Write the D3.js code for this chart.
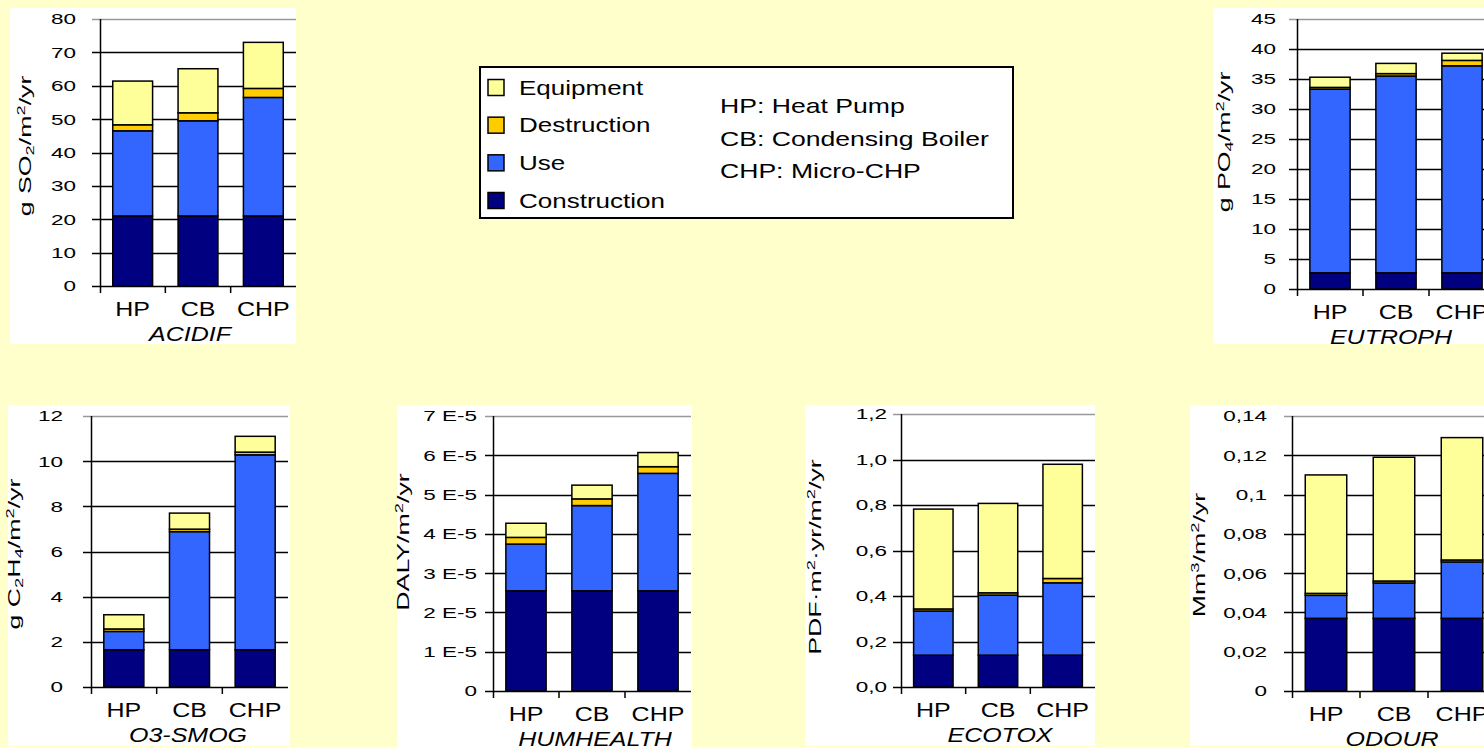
<!DOCTYPE html>
<html><head><meta charset="utf-8">
<script src="https://cdn.jsdelivr.net/npm/d3@7"></script>
<style>
html,body{margin:0;padding:0;background:#FFFFCC;overflow:hidden}
svg{display:block}
text{font-family:"Liberation Sans",Arial,sans-serif;fill:#000}
</style></head><body>
<svg id="c" width="1484" height="747"></svg>
<script>
// ---------- DATA ----------
const categories = ["HP", "CB", "CHP"];
const seriesNames = ["Construction", "Use", "Destruction", "Equipment"];
const seriesColors = ["#000080", "#3366FF", "#FFCC00", "#FFFF99"];
const legendOrder = ["Equipment", "Destruction", "Use", "Construction"];
const abbreviations = ["HP: Heat Pump", "CB: Condensing Boiler", "CHP: Micro-CHP"];

const acidifConstruction = [21, 21, 21];
const acidifUse = [25.5, 28.5, 35.5];
const acidifDestruction = [1.8, 2.4, 2.7];
const acidifEquipment = [13.1, 13.2, 13.8];
const acidifTicks = [0, 10, 20, 30, 40, 50, 60, 70, 80];
const acidifTickLabels = ["0", "10", "20", "30", "40", "50", "60", "70", "80"];

const eutrophConstruction = [2.7, 2.7, 2.7];
const eutrophUse = [30.6, 32.8, 34.5];
const eutrophDestruction = [0.3, 0.4, 0.9];
const eutrophEquipment = [1.7, 1.7, 1.2];
const eutrophTicks = [0, 5, 10, 15, 20, 25, 30, 35, 40, 45];
const eutrophTickLabels = ["0", "5", "10", "15", "20", "25", "30", "35", "40", "45"];

const smogConstruction = [1.65, 1.65, 1.65];
const smogUse = [0.81, 5.23, 8.63];
const smogDestruction = [0.11, 0.11, 0.12];
const smogEquipment = [0.63, 0.71, 0.70];
const smogTicks = [0, 2, 4, 6, 8, 10, 12];
const smogTickLabels = ["0", "2", "4", "6", "8", "10", "12"];

const humConstruction = [2.55e-5, 2.55e-5, 2.55e-5];
const humUse = [1.19e-5, 2.17e-5, 2.99e-5];
const humDestruction = [0.17e-5, 0.17e-5, 0.17e-5];
const humEquipment = [0.36e-5, 0.35e-5, 0.36e-5];
const humTicks = [0, 1e-5, 2e-5, 3e-5, 4e-5, 5e-5, 6e-5, 7e-5];
const humTickLabels = ["0", "1 E-5", "2 E-5", "3 E-5", "4 E-5", "5 E-5", "6 E-5", "7 E-5"];

const ecoConstruction = [0.14, 0.14, 0.14];
const ecoUse = [0.194, 0.264, 0.318];
const ecoDestruction = [0.009, 0.010, 0.019];
const ecoEquipment = [0.439, 0.393, 0.502];
const ecoTicks = [0, 0.2, 0.4, 0.6, 0.8, 1.0, 1.2];
const ecoTickLabels = ["0,0", "0,2", "0,4", "0,6", "0,8", "1,0", "1,2"];

const odourConstruction = [0.037, 0.037, 0.037];
const odourUse = [0.0117, 0.018, 0.0287];
const odourDestruction = [0.001, 0.001, 0.001];
const odourEquipment = [0.0603, 0.063, 0.0623];
const odourTicks = [0, 0.02, 0.04, 0.06, 0.08, 0.10, 0.12, 0.14];
const odourTickLabels = ["0", "0,02", "0,04", "0,06", "0,08", "0,1", "0,12", "0,14"];

const panelTitles = ["ACIDIF", "EUTROPH", "O3-SMOG", "HUMHEALTH", "ECOTOX", "ODOUR"];
// y axis titles: [text, shift] where shift -1 = subscript, 1 = superscript
const axisTitles = [
  [["g SO", 0], ["2", -1], ["/m", 0], ["2", 1], ["/yr", 0]],
  [["g PO", 0], ["4", -1], ["/m", 0], ["2", 1], ["/yr", 0]],
  [["g C", 0], ["2", -1], ["H", 0], ["4", -1], ["/m", 0], ["2", 1], ["/yr", 0]],
  [["DALY/m", 0], ["2", 1], ["/yr", 0]],
  [["PDF\u00B7m", 0], ["2", 1], ["\u00B7yr/m", 0], ["2", 1], ["/yr", 0]],
  [["Mm", 0], ["3", 1], ["/m", 0], ["2", 1], ["/yr", 0]]
];

// ---------- LAYOUT ----------
const panelData = [
  {s: [acidifConstruction, acidifUse, acidifDestruction, acidifEquipment], t: acidifTicks, tl: acidifTickLabels},
  {s: [eutrophConstruction, eutrophUse, eutrophDestruction, eutrophEquipment], t: eutrophTicks, tl: eutrophTickLabels},
  {s: [smogConstruction, smogUse, smogDestruction, smogEquipment], t: smogTicks, tl: smogTickLabels},
  {s: [humConstruction, humUse, humDestruction, humEquipment], t: humTicks, tl: humTickLabels},
  {s: [ecoConstruction, ecoUse, ecoDestruction, ecoEquipment], t: ecoTicks, tl: ecoTickLabels},
  {s: [odourConstruction, odourUse, odourDestruction, odourEquipment], t: odourTicks, tl: odourTickLabels}
];
const layout = [
  {box: [10, 8, 296, 344], ax: 100, top: 19, zero: 286, right: 296, lx: 25, ly: 146, tickEnd: 24, titleX: 190},
  {box: [1213, 8, 1500, 344], ax: 1297, top: 19, zero: 289, right: 1495, lx: 1224, ly: 142, tickEnd: 21, titleX: 1391},
  {box: [8, 405, 290, 746], ax: 91, top: 416, zero: 687, right: 288, lx: 14, ly: 554, tickEnd: 28, titleX: 188},
  {box: [397, 405, 692, 750], ax: 493, top: 416, zero: 691, right: 691, lx: 403, ly: 542, tickEnd: 16, titleX: 595},
  {box: [805, 405, 1095, 746], ax: 901, top: 414, zero: 687, right: 1095, lx: 815, ly: 557, tickEnd: 14, titleX: 1000},
  {box: [1190, 405, 1500, 746], ax: 1292, top: 416, zero: 691, right: 1496, lx: 1199, ly: 555, tickEnd: 25, titleX: 1392}
];

const svg = d3.select("#c");
svg.append("rect").attr("width", 1484).attr("height", 747).attr("fill", "#FFFFCC");

panelData.forEach((pd, i) => {
  const L = layout[i];
  const g = svg.append("g");
  g.append("rect").attr("x", L.box[0]).attr("y", L.box[1])
    .attr("width", L.box[2] - L.box[0]).attr("height", L.box[3] - L.box[1]).attr("fill", "#fff");

  const table = categories.map((c, k) => {
    const row = {cat: c};
    seriesNames.forEach((n, j) => row[n] = pd.s[j][k]);
    return row;
  });
  const stacked = d3.stack().keys(seriesNames)(table);
  const maxV = pd.t[pd.t.length - 1];
  const y = d3.scaleLinear().domain([0, maxV]).range([L.zero, L.top]);
  const x = d3.scaleBand().domain(categories).range([L.ax, L.right]).paddingInner(0.39).paddingOuter(0.195);

  // gridlines
  g.selectAll("line.grid").data(pd.t).enter().append("line")
    .attr("x1", L.ax - 8).attr("x2", L.right)
    .attr("y1", d => Math.round(y(d)) + 0.5).attr("y2", d => Math.round(y(d)) + 0.5)
    .attr("stroke", (d, k) => k === pd.t.length - 1 ? "#999" : "#000")
    .attr("stroke-width", (d, k) => k === pd.t.length - 1 ? 1.5 : 1.3);

  // bars
  stacked.forEach((layer, j) => {
    g.selectAll(null).data(layer).enter().append("rect")
      .attr("x", d => x(d.data.cat))
      .attr("width", x.bandwidth())
      .attr("y", d => y(d[1]))
      .attr("height", d => Math.max(0, y(d[0]) - y(d[1])))
      .attr("fill", seriesColors[j])
      .attr("stroke", "#000").attr("stroke-width", 1.5);
  });

  // y axis line
  g.append("line").attr("x1", L.ax + 0.5).attr("x2", L.ax + 0.5)
    .attr("y1", L.top).attr("y2", L.zero + 7).attr("stroke", "#000").attr("stroke-width", 1.5);
  // x tick marks between categories
  const step = x.step();
  const xt = d3.range(1, categories.length).map(k => L.ax + step * k);
  g.selectAll(null).data(xt).enter().append("line")
    .attr("x1", d => d).attr("x2", d => d)
    .attr("y1", L.zero).attr("y2", L.zero + 7).attr("stroke", "#000").attr("stroke-width", 1.5);

  // tick labels
  g.selectAll(null).data(pd.t).enter().append("text")
    .attr("transform", d => `translate(${L.ax - L.tickEnd},${y(d)}) scale(1.5,1)`)
    .attr("text-anchor", "end").attr("dy", "0.36em")
    .style("font-size", "15px")
    .text((d, k) => pd.tl[k]);

  // category labels
  g.selectAll(null).data(categories).enter().append("text")
    .attr("transform", d => `translate(${x(d) + x.bandwidth() / 2},${L.zero + 30}) scale(1.25,1)`)
    .attr("text-anchor", "middle")
    .style("font-size", "20px")
    .text(d => d);

  // panel title
  g.append("text")
    .attr("transform", `translate(${L.titleX},${L.zero + 55}) scale(1.25,1)`)
    .attr("text-anchor", "middle").style("font-size", "20px").style("font-style", "italic")
    .text(panelTitles[i]);

  // y axis title
  const t = g.append("text")
    .attr("transform", `translate(${L.lx},${L.ly}) rotate(-90) scale(1.67,1)`)
    .attr("text-anchor", "middle").attr("dy", "0.36em").style("font-size", "16px");
  axisTitles[i].forEach(([s, sh]) => {
    const ts = t.append("tspan").text(s);
    if (sh !== 0) ts.style("font-size", "11px").attr("baseline-shift", sh < 0 ? "-3" : "6");
  });
});

// legend
const lg = svg.append("g");
lg.append("rect").attr("x", 480).attr("y", 67).attr("width", 533).attr("height", 151)
  .attr("fill", "#fff").attr("stroke", "#000").attr("stroke-width", 2);
const rowY = d3.scalePoint().domain(legendOrder).range([87.5, 200.5]);
legendOrder.forEach(n => {
  const j = seriesNames.indexOf(n);
  lg.append("rect").attr("x", 488).attr("y", rowY(n) - 8).attr("width", 16).attr("height", 16)
    .attr("fill", seriesColors[j]).attr("stroke", "#000").attr("stroke-width", 1.5);
  lg.append("text").attr("transform", `translate(519,${rowY(n)}) scale(1.3,1)`)
    .attr("dy", "0.36em").style("font-size", "20px").text(n);
});
const abY = d3.scalePoint().domain(abbreviations).range([106, 171]);
abbreviations.forEach(a => {
  lg.append("text").attr("transform", `translate(720,${abY(a)}) scale(1.33,1)`)
    .attr("dy", "0.36em").style("font-size", "20px").text(a);
});
</script>
</body></html>
